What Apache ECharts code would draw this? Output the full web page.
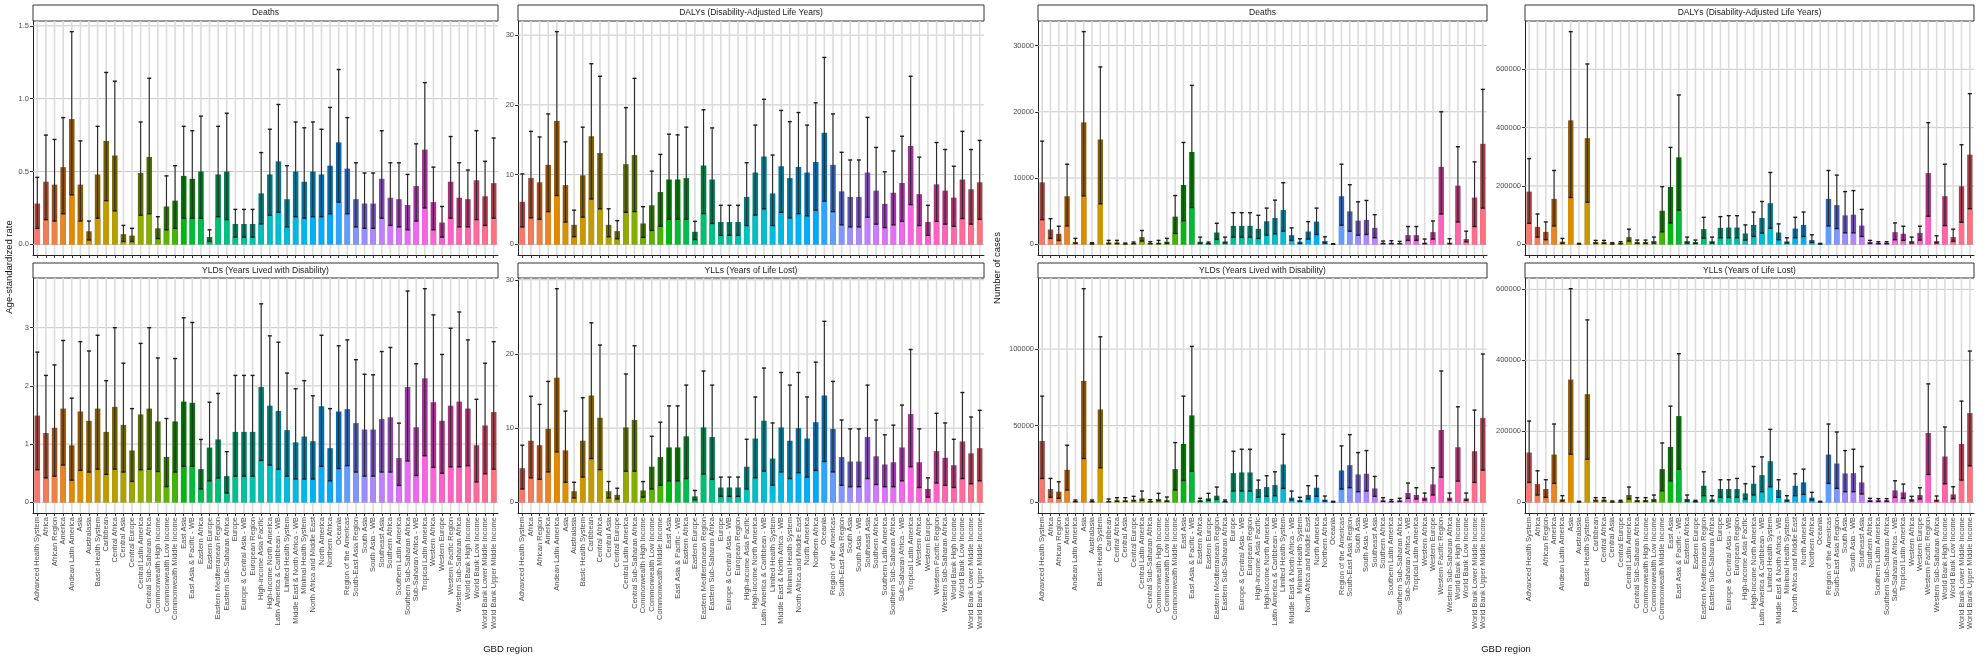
<!DOCTYPE html>
<html lang="en">
<head>
<meta charset="UTF-8">
<title>GBD region burden</title>
<script src="https://cdn.jsdelivr.net/npm/echarts@6.0.0/dist/echarts.min.js"></script>
<style>
    html, body { margin: 0; padding: 0; background: #fff; }
    #chart { width: 1984px; height: 661px; }
</style>
</head>
<body>
<div id="chart"></div>
<script>
var regions = [
    'Advanced Health System', 'Africa', 'African Region', 'America', 'Andean Latin America',
    'Asia', 'Australasia', 'Basic Health System', 'Caribbean', 'Central Africa',
    'Central Asia', 'Central Europe', 'Central Latin America', 'Central Sub-Saharan Africa', 'Commonwealth High Income',
    'Commonwealth Low Income', 'Commonwealth Middle Income', 'East Asia', 'East Asia & Pacific - WB', 'Eastern Africa',
    'Eastern Europe', 'Eastern Mediterranean Region', 'Eastern Sub-Saharan Africa', 'Europe', 'Europe & Central Asia - WB',
    'European Region', 'High-income Asia Pacific', 'High-income North America', 'Latin America & Caribbean - WB', 'Limited Health System',
    'Middle East & North Africa - WB', 'Minimal Health System', 'North Africa and Middle East', 'North America', 'Northern Africa',
    'Oceania', 'Region of the Americas', 'South-East Asia Region', 'South Asia', 'South Asia - WB',
    'Southeast Asia', 'Southern Africa', 'Southern Latin America', 'Southern Sub-Saharan Africa', 'Sub-Saharan Africa - WB',
    'Tropical Latin America', 'Western Africa', 'Western Europe', 'Western Pacific Region', 'Western Sub-Saharan Africa',
    'World Bank High Income', 'World Bank Low Income', 'World Bank Lower Middle Income', 'World Bank Upper Middle Income'
];

// age-standardized rate
var rateDeathsVal = [
    0.28, 0.43, 0.41, 0.53, 0.86, 0.41, 0.09, 0.48, 0.71, 0.61,
    0.07, 0.06, 0.49, 0.60, 0.11, 0.26, 0.30, 0.47, 0.45, 0.50,
    0.05, 0.48, 0.50, 0.14, 0.14, 0.14, 0.35, 0.48, 0.57, 0.31,
    0.50, 0.43, 0.50, 0.48, 0.54, 0.70, 0.52, 0.31, 0.28, 0.28,
    0.45, 0.32, 0.31, 0.27, 0.40, 0.65, 0.29, 0.15, 0.43, 0.32,
    0.31, 0.44, 0.33, 0.42];
var rateDeathsLow = [
    0.11, 0.17, 0.16, 0.21, 0.34, 0.16, 0.03, 0.18, 0.30, 0.23,
    0.02, 0.02, 0.20, 0.21, 0.04, 0.10, 0.11, 0.18, 0.18, 0.18,
    0.02, 0.19, 0.17, 0.05, 0.05, 0.05, 0.14, 0.20, 0.22, 0.12,
    0.19, 0.18, 0.19, 0.19, 0.21, 0.29, 0.21, 0.12, 0.11, 0.11,
    0.18, 0.13, 0.12, 0.10, 0.16, 0.25, 0.10, 0.05, 0.18, 0.12,
    0.12, 0.17, 0.13, 0.18];
var rateDeathsUp = [
    0.46, 0.75, 0.72, 0.87, 1.46, 0.71, 0.16, 0.81, 1.18, 1.12,
    0.13, 0.11, 0.84, 1.14, 0.19, 0.47, 0.54, 0.81, 0.78, 0.88,
    0.10, 0.81, 0.90, 0.24, 0.24, 0.24, 0.63, 0.79, 0.96, 0.54,
    0.84, 0.80, 0.84, 0.79, 0.94, 1.20, 0.87, 0.56, 0.49, 0.49,
    0.78, 0.56, 0.56, 0.48, 0.69, 1.11, 0.53, 0.26, 0.74, 0.56,
    0.51, 0.78, 0.57, 0.73];

var rateDalysVal = [
    6.1, 9.5, 8.9, 11.4, 17.7, 8.5, 2.8, 9.9, 15.5, 13.1,
    2.8, 1.9, 11.5, 12.8, 3.0, 5.6, 7.5, 9.3, 9.3, 9.5,
    1.8, 11.3, 9.3, 3.2, 3.2, 3.2, 6.8, 10.3, 12.6, 7.3,
    11.2, 9.5, 11.1, 10.3, 11.8, 16.0, 11.4, 7.6, 6.8, 6.8,
    10.3, 7.7, 5.8, 7.4, 8.8, 14.1, 7.2, 3.2, 8.6, 7.7,
    6.7, 9.3, 7.9, 8.9];
var rateDalysLow = [
    2.5, 3.8, 3.6, 4.7, 7.0, 3.2, 1.1, 3.9, 6.5, 5.1,
    1.1, 0.8, 4.6, 4.7, 1.0, 2.0, 2.6, 3.6, 3.6, 3.6,
    0.7, 4.4, 3.0, 1.3, 1.3, 1.3, 2.7, 4.2, 5.1, 2.7,
    4.6, 3.8, 4.4, 4.1, 4.9, 6.2, 4.7, 2.8, 2.5, 2.5,
    3.9, 2.9, 2.4, 2.8, 3.3, 5.7, 2.7, 1.3, 3.3, 2.9,
    2.6, 3.7, 2.9, 3.6];
var rateDalysUp = [
    10.1, 16.2, 15.4, 18.7, 30.5, 14.7, 4.9, 16.8, 25.9, 24.1,
    5.1, 3.4, 19.6, 23.8, 5.4, 10.5, 12.9, 15.8, 15.7, 16.8,
    3.3, 19.3, 16.7, 5.6, 5.6, 5.6, 11.7, 17.1, 20.8, 12.8,
    19.2, 17.6, 18.9, 17.1, 20.3, 26.8, 18.7, 13.2, 12.1, 12.1,
    18.2, 13.9, 10.4, 13.4, 15.5, 24.1, 12.5, 5.6, 14.6, 13.6,
    11.2, 16.2, 13.6, 14.9];

var rateYldsVal = [
    1.49, 1.19, 1.28, 1.61, 0.98, 1.56, 1.40, 1.61, 1.21, 1.64,
    1.33, 0.89, 1.51, 1.61, 1.39, 0.78, 1.39, 1.73, 1.71, 0.57,
    0.94, 1.08, 0.45, 1.21, 1.21, 1.21, 1.98, 1.66, 1.57, 1.24,
    1.03, 1.13, 1.05, 1.65, 0.93, 1.56, 1.60, 1.36, 1.25, 1.25,
    1.43, 1.46, 0.76, 1.98, 1.29, 2.13, 1.72, 1.40, 1.66, 1.73,
    1.61, 0.98, 1.32, 1.55];
var rateYldsLow = [
    0.56, 0.42, 0.45, 0.64, 0.38, 0.55, 0.52, 0.57, 0.48, 0.57,
    0.52, 0.36, 0.56, 0.57, 0.53, 0.27, 0.52, 0.62, 0.62, 0.23,
    0.37, 0.42, 0.16, 0.45, 0.45, 0.45, 0.72, 0.64, 0.57, 0.45,
    0.40, 0.40, 0.40, 0.62, 0.37, 0.58, 0.63, 0.52, 0.45, 0.45,
    0.52, 0.52, 0.29, 0.71, 0.46, 0.80, 0.60, 0.50, 0.61, 0.61,
    0.63, 0.35, 0.49, 0.57];
var rateYldsUp = [
    2.58, 2.18, 2.36, 2.78, 1.79, 2.76, 2.60, 2.87, 2.09, 3.00,
    2.39, 1.61, 2.73, 3.00, 2.48, 1.44, 2.47, 3.17, 3.09, 1.08,
    1.72, 1.87, 0.87, 2.18, 2.18, 2.18, 3.41, 2.86, 2.75, 2.22,
    1.95, 2.09, 1.83, 2.87, 1.61, 2.69, 2.79, 2.45, 2.20, 2.19,
    2.59, 2.66, 1.36, 3.63, 2.38, 3.67, 3.22, 2.54, 2.99, 3.27,
    2.79, 1.77, 2.39, 2.76];

var rateYllsVal = [
    4.6, 8.3, 7.7, 9.9, 16.8, 7.0, 1.5, 8.3, 14.4, 11.4,
    1.5, 1.0, 10.1, 11.1, 1.6, 4.8, 6.1, 7.4, 7.4, 8.9,
    0.8, 10.1, 8.8, 2.0, 2.0, 2.0, 4.8, 8.6, 11.0, 5.9,
    10.1, 8.3, 10.0, 8.6, 10.8, 14.4, 9.9, 6.1, 5.5, 5.5,
    8.8, 6.2, 5.1, 5.4, 7.4, 11.9, 5.4, 1.8, 6.9, 6.0,
    5.0, 8.2, 6.6, 7.3];
var rateYllsLow = [
    1.8, 3.3, 3.1, 4.1, 6.8, 2.7, 0.6, 3.4, 5.9, 4.4,
    0.6, 0.45, 4.2, 4.2, 0.7, 1.8, 2.3, 2.9, 2.9, 3.2,
    0.35, 3.8, 3.1, 0.8, 0.8, 0.8, 1.8, 3.3, 4.2, 2.3,
    4.1, 3.2, 4.0, 3.4, 4.3, 5.5, 4.1, 2.3, 2.1, 2.1,
    3.2, 2.4, 2.1, 2.1, 2.9, 4.8, 2.0, 0.7, 2.6, 2.3,
    2.0, 3.2, 2.5, 2.9];
var rateYllsUp = [
    7.7, 14.3, 13.2, 16.3, 28.8, 12.3, 2.7, 14.1, 24.2, 21.2,
    2.8, 1.9, 17.3, 21.1, 2.8, 8.9, 10.8, 13.0, 13.0, 15.8,
    1.6, 17.7, 15.8, 3.4, 3.4, 3.4, 8.5, 14.2, 18.1, 10.7,
    17.5, 15.8, 17.5, 14.2, 18.9, 24.4, 16.3, 11.1, 9.9, 9.9,
    15.8, 11.1, 9.1, 10.4, 13.1, 20.6, 9.9, 3.3, 12.0, 10.7,
    8.5, 14.8, 11.5, 12.4];

// number of cases
var casesDeathsVal = [
    9350, 2240, 1590, 7260, 350, 18400, 150, 15820, 300, 300,
    100, 200, 1090, 200, 250, 400, 4180, 8960, 13930, 400,
    200, 1790, 450, 2790, 2790, 2790, 2340, 3480, 3980, 5170,
    1390, 400, 1940, 3430, 500, 50, 7260, 4980, 3580, 3680,
    2490, 250, 250, 200, 1390, 1390, 250, 1840, 11690, 250,
    8860, 800, 7060, 15170];
var casesDeathsLow = [
    3730, 900, 600, 2790, 150, 7310, 50, 6120, 100, 100,
    50, 100, 500, 100, 100, 150, 1640, 3580, 5570, 150,
    100, 750, 200, 1090, 1090, 1090, 900, 1390, 1590, 1990,
    600, 150, 800, 1490, 200, 20, 2890, 1990, 1390, 1490,
    1000, 100, 100, 100, 600, 600, 100, 800, 4580, 100,
    3380, 400, 2690, 5470];
var casesDeathsUp = [
    15570, 3880, 2740, 12090, 900, 32090, 250, 26770, 600, 600,
    200, 350, 2090, 400, 600, 900, 7360, 15370, 23980, 1090,
    350, 3180, 1090, 4780, 4780, 4780, 4380, 5470, 6670, 9300,
    2490, 850, 3430, 5470, 1140, 100, 12090, 9000, 6420, 6620,
    4480, 500, 550, 450, 2690, 2690, 800, 3530, 20000, 850,
    14730, 1990, 12440, 23380];

var casesDalysVal = [
    180800, 59900, 42900, 155900, 9040, 424900, 2260, 363900, 7900, 7900,
    3390, 5650, 24900, 7900, 7900, 11300, 115300, 196600, 298300, 11300,
    7900, 52000, 11300, 56500, 57600, 57600, 37300, 66700, 90400, 141200,
    40700, 10200, 54200, 66700, 14700, 2260, 155900, 134500, 99400, 101700,
    64400, 7900, 5650, 5650, 41800, 36200, 11300, 39500, 244100, 11300,
    165000, 24900, 198900, 307400];
var casesDalysLow = [
    72300, 24900, 15800, 63300, 3400, 160500, 1130, 144600, 3400, 3400,
    1130, 2260, 11300, 3400, 3400, 4520, 42900, 73500, 117500, 4520,
    3400, 21500, 4520, 22600, 22600, 22600, 14700, 27100, 38400, 55400,
    15800, 4520, 22600, 27100, 6780, 1130, 63300, 54200, 39500, 39500,
    27100, 3400, 2260, 2260, 15800, 13560, 4520, 14700, 96000, 4520,
    64400, 10200, 75700, 122000];
var casesDalysUp = [
    293800, 104000, 76800, 253100, 20300, 728900, 3390, 618100, 13560, 13560,
    5650, 9040, 52000, 14700, 14700, 24900, 197800, 332200, 511900, 24900,
    14700, 92700, 24900, 94900, 98300, 98300, 66700, 110700, 146900, 246300,
    70100, 22600, 92700, 110700, 32800, 3390, 253100, 237300, 180800, 184200,
    119800, 13560, 9040, 9040, 73500, 62200, 24900, 62200, 417000, 29400,
    274600, 52000, 341300, 516400];

var casesYldsVal = [
    40050, 8660, 6930, 21220, 870, 79240, 870, 60620, 870, 1300,
    1300, 1730, 2600, 870, 2170, 1300, 21650, 38100, 56720, 1300,
    2600, 4330, 870, 19050, 19490, 19490, 8660, 9960, 11260, 24680,
    3030, 1520, 4760, 9530, 1730, 430, 20780, 24250, 18190, 18620,
    9090, 1300, 870, 1300, 6060, 4760, 3030, 11690, 47200, 3030,
    35940, 2600, 33340, 55000];
var casesYldsLow = [
    15590, 3250, 2600, 8010, 430, 28580, 430, 22520, 430, 650,
    650, 870, 1300, 430, 1080, 650, 8010, 14290, 20350, 650,
    1300, 1950, 430, 7360, 7360, 7360, 3250, 3900, 4330, 9090,
    1520, 650, 2170, 3900, 870, 220, 8660, 9530, 6930, 7360,
    3900, 650, 430, 650, 2600, 2170, 1520, 4760, 16450, 1520,
    13860, 1300, 12990, 21000];
var casesYldsUp = [
    69280, 15590, 13420, 37240, 1520, 139430, 1520, 108030, 2170, 3030,
    3030, 3900, 7360, 1730, 5850, 3460, 38970, 69280, 101755, 2600,
    5850, 9960, 1520, 33340, 34640, 34640, 14510, 17320, 19920, 44380,
    7360, 3250, 10830, 17320, 4110, 650, 36810, 44170, 32480, 33770,
    16890, 3030, 1730, 2600, 12560, 9530, 6060, 22520, 85730, 6060,
    62350, 6060, 60190, 96800];

var casesYllsVal = [
    140200, 51400, 37400, 134600, 8400, 345800, 1900, 304700, 7500, 7500,
    1900, 2800, 20600, 6500, 6500, 9300, 93500, 156100, 243000, 9300,
    3700, 46700, 8400, 37400, 37400, 37400, 25200, 52300, 76600, 115900,
    34600, 8400, 46700, 56100, 13100, 1900, 134600, 109300, 81300, 82200,
    56100, 6500, 5600, 5600, 33600, 28000, 9300, 20600, 195300, 7500,
    129000, 22400, 164500, 251400];
var casesYllsLow = [
    56100, 20600, 14000, 53300, 3700, 135500, 900, 121500, 3700, 3700,
    900, 900, 9300, 2800, 2800, 3700, 32700, 60700, 93500, 3700,
    1900, 18700, 3700, 14000, 14000, 14000, 9300, 20600, 29900, 43900,
    14000, 3700, 18700, 22400, 6500, 900, 53300, 39300, 29900, 29900,
    23400, 2800, 2800, 2800, 14000, 11200, 3700, 9300, 78500, 3700,
    52300, 10300, 62600, 102800];
var casesYllsUp = [
    229000, 88800, 63600, 220600, 18700, 601900, 2800, 514000, 13100, 13100,
    3700, 5600, 43000, 13100, 13100, 20600, 167300, 271000, 418700, 20600,
    5600, 86000, 18700, 63600, 63600, 67300, 52300, 100900, 128000, 205600,
    63600, 18700, 80400, 93500, 28000, 2800, 220600, 198100, 145800, 149500,
    100900, 11200, 10300, 10300, 60700, 51400, 16800, 41100, 333700, 17800,
    212200, 43900, 285100, 426200];

// tick labels
var rateDeathsTicks = [0, 0.5, 1.0, 1.5];
var rateDalysTicks = [0, 10, 20, 30];
var rateYldsTicks = [0, 1, 2, 3];
var rateYllsTicks = [0, 10, 20, 30];
var casesDeathsTicks = [0, 10000, 20000, 30000];
var casesDalysTicks = [0, 200000, 400000, 600000];
var casesYldsTicks = [0, 50000, 100000];
var casesYllsTicks = [0, 200000, 400000, 600000];

// ggplot-like hue palette (hcl)
function hcl(h, c, l) {
    var hr = h * Math.PI / 180;
    var u = c * Math.cos(hr), v = c * Math.sin(hr);
    var Xn = 95.047, Yn = 100, Zn = 108.883;
    var un = 4 * Xn / (Xn + 15 * Yn + 3 * Zn), vn = 9 * Yn / (Xn + 15 * Yn + 3 * Zn);
    var Y = Yn * Math.pow((l + 16) / 116, 3);
    var up = u / (13 * l) + un, vp = v / (13 * l) + vn;
    var X = Y * 9 * up / (4 * vp);
    var Z = Y * (12 - 3 * up - 20 * vp) / (4 * vp);
    X /= 100; Y /= 100; Z /= 100;
    var r = 3.2404542 * X - 1.5371385 * Y - 0.4985314 * Z;
    var g = -0.9692660 * X + 1.8760108 * Y + 0.0415560 * Z;
    var b = 0.0556434 * X - 0.2040259 * Y + 1.0572252 * Z;
    function gam(x) {
        x = x <= 0.0031308 ? 12.92 * x : 1.055 * Math.pow(x, 1 / 2.4) - 0.055;
        return Math.round(Math.max(0, Math.min(1, x)) * 255);
    }
    return 'rgb(' + gam(r) + ',' + gam(g) + ',' + gam(b) + ')';
}
var baseColors = regions.map(function (r, i) { return hcl(15 + i * 360 / regions.length, 100, 65); });
var darkColors = regions.map(function (r, i) { return hcl(15 + i * 360 / regions.length, 75, 42); });

var FONT = 'Liberation Sans, Arial, sans-serif';
var colLeft = [33, 518, 1038, 1525];
var colWidth = [465, 466, 449, 449];
var rowTop = [21, 278];
var rowHeight = [234, 235];
var stripH = [16, 15];

var fmt1 = function (v) { return v.toFixed(1); };
var fmt0 = function (v) { return String(Math.round(v)); };

var panels = [
    {title: 'Deaths', val: rateDeathsVal, low: rateDeathsLow, up: rateDeathsUp, ticks: rateDeathsTicks, fmt: fmt1, col: 0, row: 0},
    {title: 'DALYs (Disability-Adjusted Life Years)', val: rateDalysVal, low: rateDalysLow, up: rateDalysUp, ticks: rateDalysTicks, fmt: fmt0, col: 1, row: 0},
    {title: 'YLDs (Years Lived with Disability)', val: rateYldsVal, low: rateYldsLow, up: rateYldsUp, ticks: rateYldsTicks, fmt: fmt0, col: 0, row: 1},
    {title: 'YLLs (Years of Life Lost)', val: rateYllsVal, low: rateYllsLow, up: rateYllsUp, ticks: rateYllsTicks, fmt: fmt0, col: 1, row: 1},
    {title: 'Deaths', val: casesDeathsVal, low: casesDeathsLow, up: casesDeathsUp, ticks: casesDeathsTicks, fmt: fmt0, col: 2, row: 0},
    {title: 'DALYs (Disability-Adjusted Life Years)', val: casesDalysVal, low: casesDalysLow, up: casesDalysUp, ticks: casesDalysTicks, fmt: fmt0, col: 3, row: 0},
    {title: 'YLDs (Years Lived with Disability)', val: casesYldsVal, low: casesYldsLow, up: casesYldsUp, ticks: casesYldsTicks, fmt: fmt0, col: 2, row: 1},
    {title: 'YLLs (Years of Life Lost)', val: casesYllsVal, low: casesYllsLow, up: casesYllsUp, ticks: casesYllsTicks, fmt: fmt0, col: 3, row: 1}
];

var grids = [], xAxes = [], yAxes = [], series = [], graphics = [];

panels.forEach(function (p, k) {
    var left = colLeft[p.col], width = colWidth[p.col];
    var top = rowTop[p.row], height = rowHeight[p.row];
    var maxUp = Math.max.apply(null, p.up);

    grids.push({left: left, top: top, width: width, height: height, containLabel: false});

    xAxes.push({
        gridIndex: k, type: 'category', data: regions, boundaryGap: true,
        axisLine: {show: true, onZero: false, lineStyle: {color: '#222', width: 1}},
        axisTick: {show: true, alignWithLabel: true, interval: 0, length: 3, lineStyle: {color: '#333'}},
        axisLabel: {show: p.row === 1, interval: 0, rotate: 90, fontSize: 7.5, color: '#4d4d4d', margin: 4, fontFamily: FONT},
        splitLine: {show: false}
    });

    yAxes.push({
        gridIndex: k, type: 'value',
        min: -maxUp * 0.05, max: maxUp * 1.05,
        axisLine: {show: true, lineStyle: {color: '#222', width: 1}},
        axisTick: {show: true, length: 3, lineStyle: {color: '#333'}, customValues: p.ticks},
        axisLabel: {customValues: p.ticks, formatter: p.fmt, fontSize: 7.5, color: '#4d4d4d', margin: 4, fontFamily: FONT},
        splitLine: {show: false}
    });

    // horizontal grid lines at the tick values
    series.push({
        type: 'custom', xAxisIndex: k, yAxisIndex: k, silent: true, z: 1,
        data: p.ticks.map(function (t) { return [0, t]; }),
        encode: {x: 0, y: 1},
        renderItem: function (params, api) {
            var y = api.coord([0, api.value(1)])[1];
            var cs = params.coordSys;
            return {type: 'line', shape: {x1: cs.x, y1: y, x2: cs.x + cs.width, y2: y},
                style: {stroke: '#c8c8c8', lineWidth: 1}};
        }
    });

    // vertical grid line at every region
    series.push({
        type: 'custom', xAxisIndex: k, yAxisIndex: k, silent: true, z: 1,
        data: regions.map(function (r, i) { return [i, 0]; }),
        encode: {x: 0, y: 1},
        renderItem: function (params, api) {
            var x = api.coord([api.value(0), 0])[0];
            var cs = params.coordSys;
            return {type: 'line', shape: {x1: x, y1: cs.y, x2: x, y2: cs.y + cs.height},
                style: {stroke: '#dcdcdc', lineWidth: 1.6}};
        }
    });

    series.push({
        type: 'bar', xAxisIndex: k, yAxisIndex: k, data: p.val, barWidth: '64%', z: 2,
        itemStyle: {color: function (d) { return darkColors[d.dataIndex]; }}
    });
    series.push({
        type: 'bar', xAxisIndex: k, yAxisIndex: k, data: p.low, barWidth: '64%', barGap: '-100%', z: 2,
        itemStyle: {color: function (d) { return baseColors[d.dataIndex]; }}
    });

    series.push({
        type: 'custom', xAxisIndex: k, yAxisIndex: k, z: 3,
        data: p.low.map(function (l, i) { return [i, l, p.up[i]]; }),
        encode: {x: 0, y: [1, 2]},
        renderItem: function (params, api) {
            var a = api.coord([api.value(0), api.value(1)]);
            var b = api.coord([api.value(0), api.value(2)]);
            var hw = 2;
            return {
                type: 'group',
                children: [
                    {type: 'line', shape: {x1: a[0], y1: a[1], x2: b[0], y2: b[1]}, style: {stroke: '#2b2b2b', lineWidth: 1.1}},
                    {type: 'line', shape: {x1: b[0] - hw, y1: b[1], x2: b[0] + hw, y2: b[1]}, style: {stroke: '#1a1a1a', lineWidth: 1.4}},
                    {type: 'line', shape: {x1: a[0] - hw, y1: a[1], x2: a[0] + hw, y2: a[1]}, style: {stroke: '#1a1a1a', lineWidth: 1.4}}
                ]
            };
        }
    });

    // facet strip
    graphics.push({
        type: 'rect', silent: true,
        shape: {x: left, y: top - stripH[p.row], width: width, height: stripH[p.row]},
        style: {fill: '#ffffff', stroke: '#333333', lineWidth: 1}
    });
    graphics.push({
        type: 'text', silent: true,
        x: left + width / 2, y: top - stripH[p.row] / 2,
        style: {text: p.title, fontSize: 8.5, fill: '#1a1a1a', align: 'center', verticalAlign: 'middle', fontFamily: FONT}
    });
});

// axis titles
graphics.push({type: 'text', x: 9, y: 267, rotation: Math.PI / 2,
    style: {text: 'Age-standardized rate', fontSize: 9.5, fill: '#111', align: 'center', verticalAlign: 'middle', fontFamily: FONT}});
graphics.push({type: 'text', x: 997, y: 268, rotation: Math.PI / 2,
    style: {text: 'Number of cases', fontSize: 9.5, fill: '#111', align: 'center', verticalAlign: 'middle', fontFamily: FONT}});
graphics.push({type: 'text', x: 508, y: 649,
    style: {text: 'GBD region', fontSize: 9.5, fill: '#111', align: 'center', verticalAlign: 'middle', fontFamily: FONT}});
graphics.push({type: 'text', x: 1506, y: 649,
    style: {text: 'GBD region', fontSize: 9.5, fill: '#111', align: 'center', verticalAlign: 'middle', fontFamily: FONT}});

var chart = echarts.init(document.getElementById('chart'));
chart.setOption({
    animation: false,
    backgroundColor: '#ffffff',
    textStyle: {fontFamily: FONT},
    grid: grids,
    xAxis: xAxes,
    yAxis: yAxes,
    series: series,
    graphic: graphics
});
</script>
</body>
</html>
